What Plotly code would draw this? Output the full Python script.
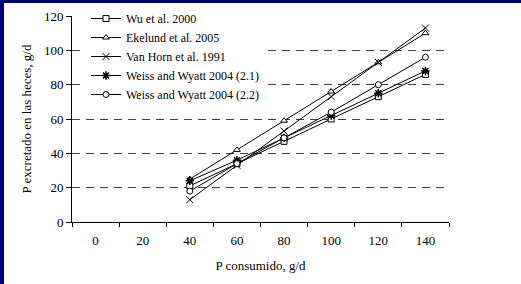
import plotly.graph_objects as go

categories = ["0", "20", "40", "60", "80", "100", "120", "140"]
x_consumed = ["40", "60", "80", "100", "120", "140"]

wu_2000 = [21, 34, 47, 60, 73, 86]
ekelund_2005 = [25, 42, 59, 76, 93, 110]
van_horn_1991 = [13, 33, 53, 73, 93, 113]
weiss_21 = [24, 36, 49, 62, 75, 88]
weiss_22 = [18, 34, 49, 64, 80, 96]

series_names = [
    "Wu et al. 2000",
    "Ekelund et al. 2005",
    "Van Horn et al. 1991",
    "Weiss and Wyatt 2004 (2.1)",
    "Weiss and Wyatt 2004 (2.2)",
]
series_values = [wu_2000, ekelund_2005, van_horn_1991, weiss_21, weiss_22]
symbols = ["square", "triangle-up", "x-thin", "asterisk", "circle"]

FONT = "Liberation Serif"

fig = go.Figure()
for name, vals, sym in zip(series_names, series_values, symbols):
    thin = sym in ("x-thin", "asterisk")
    fig.add_trace(go.Scatter(
        x=x_consumed, y=vals, name=name, mode="lines+markers",
        line=dict(color="black", width=1),
        marker=dict(symbol=sym, size=7 if thin else 6,
                    color="white" if not thin else "black",
                    line=dict(color="black", width=1.5 if sym == "asterisk" else 1)),
    ))

# page is 521x284; a 4px navy strip on the left and 3px on top frame the white figure
PAD_L, PAD_T = 4, 3
W, H = 521 - PAD_L, 284 - PAD_T
L, R, T, B = 72 - PAD_L, 72, 16 - PAD_T, 62
pw, ph = W - L - R, H - T - B

def px_x(p):
    return (p - PAD_L - L) / pw

def px_y(p):
    return (H - B - (p - PAD_T)) / ph

navy = "#000080"

fig.update_layout(
    width=W, height=H,
    margin=dict(l=L, r=R, t=T, b=B, autoexpand=False),
    paper_bgcolor="white", plot_bgcolor="white",
    font=dict(family=FONT, size=13, color="black"),
    showlegend=True,
    legend=dict(x=px_x(86), y=px_y(4), xanchor="left", yanchor="top",
                bgcolor="white", borderwidth=0, font=dict(size=12, family=FONT),
                tracegroupgap=0),
    xaxis=dict(
        type="category", categoryorder="array", categoryarray=categories,
        range=[-0.5, 7.5], tickson="boundaries", automargin=False,
        showline=True, linecolor="black", linewidth=1,
        ticks="outside", ticklen=4, tickcolor="black",
        showgrid=False, zeroline=False, ticklabelstandoff=6,
        title=dict(text="P consumido, g/d", font=dict(size=13), standoff=14),
        tickfont=dict(size=13),
    ),
    yaxis=dict(
        range=[0, 120], dtick=20, tick0=0, automargin=False,
        showline=True, linecolor="black", linewidth=1,
        ticks="outside", ticklen=5, tickcolor="black",
        showgrid=True, gridcolor="#404040", gridwidth=1, griddash="8px,6px",
        zeroline=False,
        title=dict(text="P excretado en las heces, g/d", font=dict(size=13), standoff=9),
        tickfont=dict(size=13),
    ),
)

post = (
    "document.body.style.margin='0';"
    f"document.body.style.padding='{PAD_T}px 0 0 {PAD_L}px';"
    f"document.body.style.background='{navy}';"
    "document.body.style.overflow='hidden';"
)
fig.write_html("out.html", config={"displayModeBar": False}, post_script=post)
